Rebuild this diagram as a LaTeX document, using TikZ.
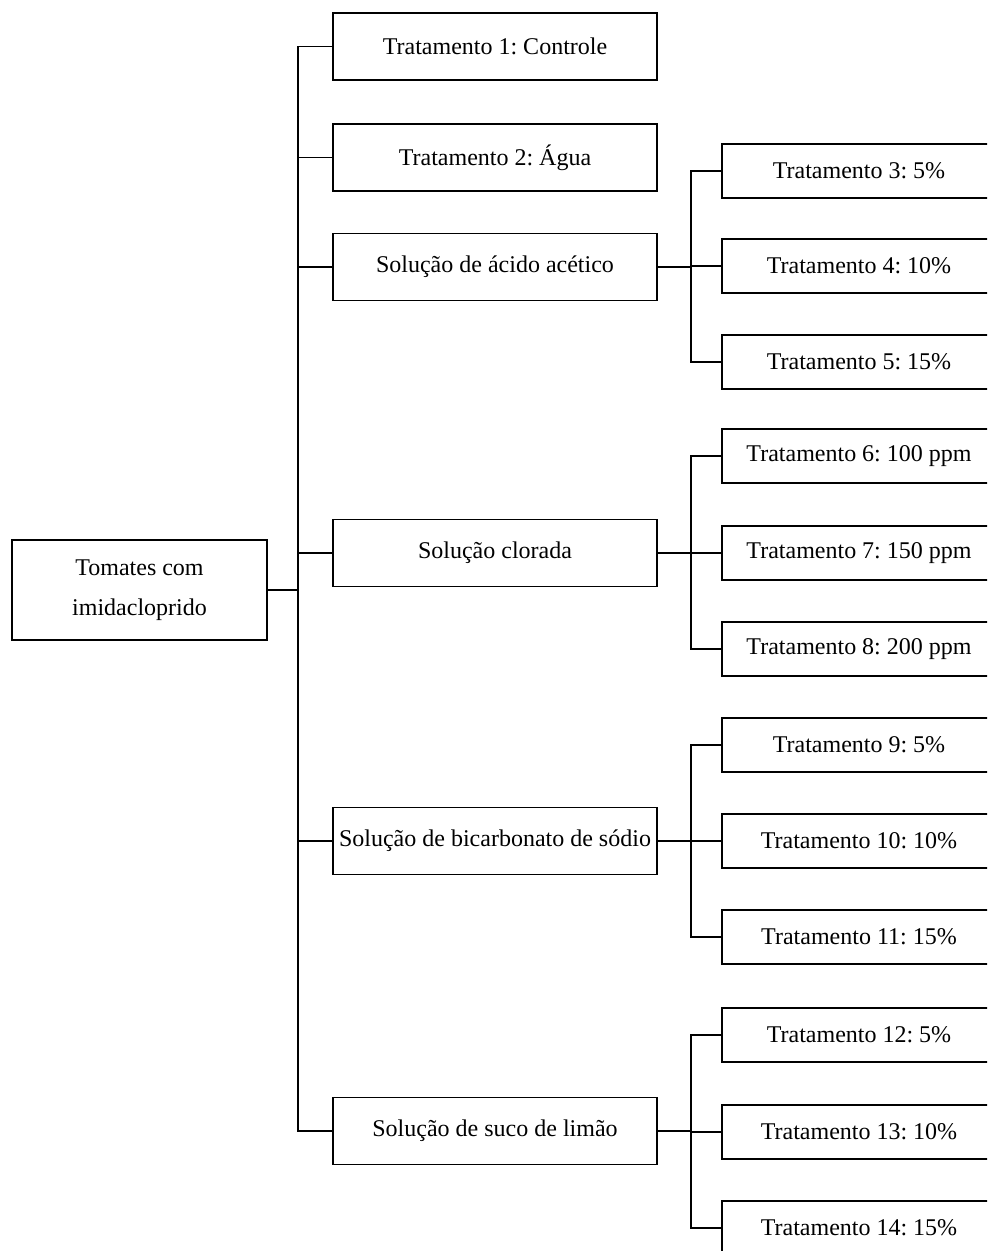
\documentclass[tikz,border=0pt]{standalone}
\usepackage{fontspec}
\setmainfont{Liberation Serif}
\frenchspacing
\tikzset{
	liga/.style={line width=0.8pt},
	caixa/.style={draw, line width=0.8pt, inner sep=0pt, outer sep=0pt, align=center,
		font=\fontsize{12}{20}\selectfont},
	raiz/.style={caixa, minimum width=127.5pt, minimum height=50pt},
	nivelA/.style={caixa, minimum width=162pt, minimum height=33.5pt},
	nivelB/.style={caixa, minimum width=137pt, minimum height=27pt}
}
\newcommand{\galho}[3]{\draw[liga] (#1.east) -- (#1.east -| #2) |- (#3.west)}
\newcommand{\trat}[3]{\node[nivelB] (#1) at (859,#2) {#3}}

\begin{document}
\begin{tikzpicture}[x=0.5pt, y=-0.5pt]
%Frame
	\useasboundingbox (0,0) rectangle (987,1251);
	\clip (0,0) rectangle (987,1251);
%Root
	\node[raiz] (tomates) at (139.5,590) {Tomates com\\imidacloprido};
%First level
	\node[nivelA] (controle) at (495,46.5) {Tratamento 1: Controle};
	\node[nivelA] (agua) at (495,157.5) {Tratamento 2: Água};
	\node[nivelA] (acetico) at (495,267) {Solução de ácido acético};
	\node[nivelA] (clorada) at (495,553) {Solução clorada};
	\node[nivelA] (bicarbonato) at (495,841) {Solução de bicarbonato de sódio};
	\node[nivelA] (limao) at (495,1131) {Solução de suco de limão};
%Second level
	\trat{t3}{171}{Tratamento 3: 5\%};
	\trat{t4}{266}{Tratamento 4: 10\%};
	\trat{t5}{362}{Tratamento 5: 15\%};
	\trat{t6}{456}{Tratamento 6: 100 ppm};
	\trat{t7}{553}{Tratamento 7: 150 ppm};
	\trat{t8}{649}{Tratamento 8: 200 ppm};
	\trat{t9}{745}{Tratamento 9: 5\%};
	\trat{t10}{841}{Tratamento 10: 10\%};
	\trat{t11}{937}{Tratamento 11: 15\%};
	\trat{t12}{1035}{Tratamento 12: 5\%};
	\trat{t13}{1132}{Tratamento 13: 10\%};
	\trat{t14}{1228}{Tratamento 14: 15\%};
%Main trunk
	\coordinate (tronco) at (298,0);
	\galho{tomates}{tronco}{controle};
	\galho{tomates}{tronco}{agua};
	\galho{tomates}{tronco}{acetico};
	\galho{tomates}{tronco}{clorada};
	\galho{tomates}{tronco}{bicarbonato};
	\galho{tomates}{tronco}{limao};
%Branches
	\coordinate (ramo) at (691,0);
	\galho{acetico}{ramo}{t3};
	\galho{acetico}{ramo}{t4};
	\galho{acetico}{ramo}{t5};
	\galho{clorada}{ramo}{t6};
	\galho{clorada}{ramo}{t7};
	\galho{clorada}{ramo}{t8};
	\galho{bicarbonato}{ramo}{t9};
	\galho{bicarbonato}{ramo}{t10};
	\galho{bicarbonato}{ramo}{t11};
	\galho{limao}{ramo}{t12};
	\galho{limao}{ramo}{t13};
	\galho{limao}{ramo}{t14};
\end{tikzpicture}
\end{document}
